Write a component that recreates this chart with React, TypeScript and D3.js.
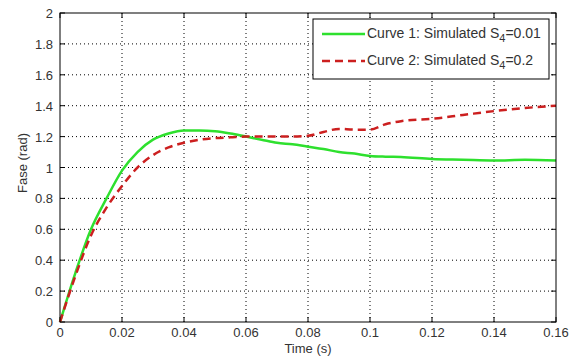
import React from 'react';
import * as d3 from 'd3';

const timeS = [0, 0.005, 0.01, 0.015, 0.02, 0.025, 0.03, 0.035, 0.04, 0.045, 0.05, 0.055, 0.06, 0.065, 0.07, 0.075, 0.08, 0.085, 0.09, 0.095, 0.1, 0.105, 0.11, 0.12, 0.13, 0.14, 0.15, 0.16];
const curve1 = [0, 0.32, 0.6, 0.8, 0.98, 1.1, 1.18, 1.22, 1.24, 1.24, 1.235, 1.22, 1.2, 1.18, 1.16, 1.15, 1.135, 1.12, 1.1, 1.09, 1.075, 1.07, 1.068, 1.055, 1.05, 1.045, 1.05, 1.045];
const curve2 = [0, 0.3, 0.56, 0.74, 0.88, 1.0, 1.08, 1.13, 1.16, 1.18, 1.19, 1.195, 1.2, 1.2, 1.2, 1.2, 1.205, 1.23, 1.25, 1.245, 1.245, 1.28, 1.3, 1.315, 1.34, 1.365, 1.385, 1.4];
const xTicks = [0, 0.02, 0.04, 0.06, 0.08, 0.1, 0.12, 0.14, 0.16];
const yTicks = [0, 0.2, 0.4, 0.6, 0.8, 1, 1.2, 1.4, 1.6, 1.8, 2];

const W = 574;
const H = 362;
const left = 60, right = 556, top = 13, bottom = 322;

export default function App() {
  const x = d3.scaleLinear().domain([0, 0.16]).range([left, right]);
  const y = d3.scaleLinear().domain([0, 2]).range([bottom, top]);
  const line = d3.line<number>()
    .x((_, i) => x(timeS[i]))
    .y(d => y(d))
    .curve(d3.curveMonotoneX);
  const font = '"Liberation Sans", Arial, sans-serif';
  const fmt = (v: number) => String(v);

  return (
    <svg width={W} height={H} style={{ position: 'absolute', left: 0, top: 0, background: '#fff' }} fontFamily={font}>
      <rect x={0} y={0} width={W} height={H} fill="#fff" />
      {/* grid */}
      {xTicks.slice(1, -1).map(t => (
        <line key={'gx' + t} x1={x(t)} x2={x(t)} y1={top} y2={bottom} stroke="#000" strokeWidth={1} strokeDasharray="1,3" />
      ))}
      {yTicks.slice(1, -1).map(t => (
        <line key={'gy' + t} x1={left} x2={right} y1={y(t)} y2={y(t)} stroke="#000" strokeWidth={1} strokeDasharray="1,3" />
      ))}
      {/* ticks */}
      {xTicks.map(t => (
        <g key={'tx' + t}>
          <line x1={x(t)} x2={x(t)} y1={bottom} y2={bottom - 5} stroke="#000" />
          <line x1={x(t)} x2={x(t)} y1={top} y2={top + 5} stroke="#000" />
          <text x={x(t)} y={bottom + 15} fontSize={13} textAnchor="middle" fill="#333">{fmt(t)}</text>
        </g>
      ))}
      {yTicks.map(t => (
        <g key={'ty' + t}>
          <line x1={left} x2={left + 5} y1={y(t)} y2={y(t)} stroke="#000" />
          <line x1={right} x2={right - 5} y1={y(t)} y2={y(t)} stroke="#000" />
          <text x={left - 7} y={y(t) + 5} fontSize={13} textAnchor="end" fill="#333">{fmt(t)}</text>
        </g>
      ))}
      {/* curves */}
      <path d={line(curve1) ?? ''} fill="none" stroke="#2ee02e" strokeWidth={2.5} />
      <path d={line(curve2) ?? ''} fill="none" stroke="#cc1f1f" strokeWidth={2.5} strokeDasharray="8,5" />
      {/* frame */}
      <rect x={left} y={top} width={right - left} height={bottom - top} fill="none" stroke="#000" strokeWidth={1} />
      {/* legend */}
      <rect x={313} y={19} width={236} height={60} fill="#fff" stroke="#000" strokeWidth={1} />
      <line x1={322} x2={365} y1={34} y2={34} stroke="#2ee02e" strokeWidth={2.5} />
      <line x1={322} x2={365} y1={61} y2={61} stroke="#cc1f1f" strokeWidth={2.5} strokeDasharray="8,5" />
      <text x={367} y={38} fontSize={14} fill="#333">
        Curve 1: Simulated S<tspan dy={4} fontSize={11}>4</tspan><tspan dy={-4}>=0.01</tspan>
      </text>
      <text x={367} y={65} fontSize={14} fill="#333">
        Curve 2: Simulated S<tspan dy={4} fontSize={11}>4</tspan><tspan dy={-4}>=0.2</tspan>
      </text>
      {/* axis labels */}
      <text x={(left + right) / 2} y={353} fontSize={13} textAnchor="middle" fill="#333">Time (s)</text>
      <text transform={`translate(27, 163) rotate(-90)`} fontSize={13} textAnchor="middle" fill="#333">Fase (rad)</text>
    </svg>
  );
}
